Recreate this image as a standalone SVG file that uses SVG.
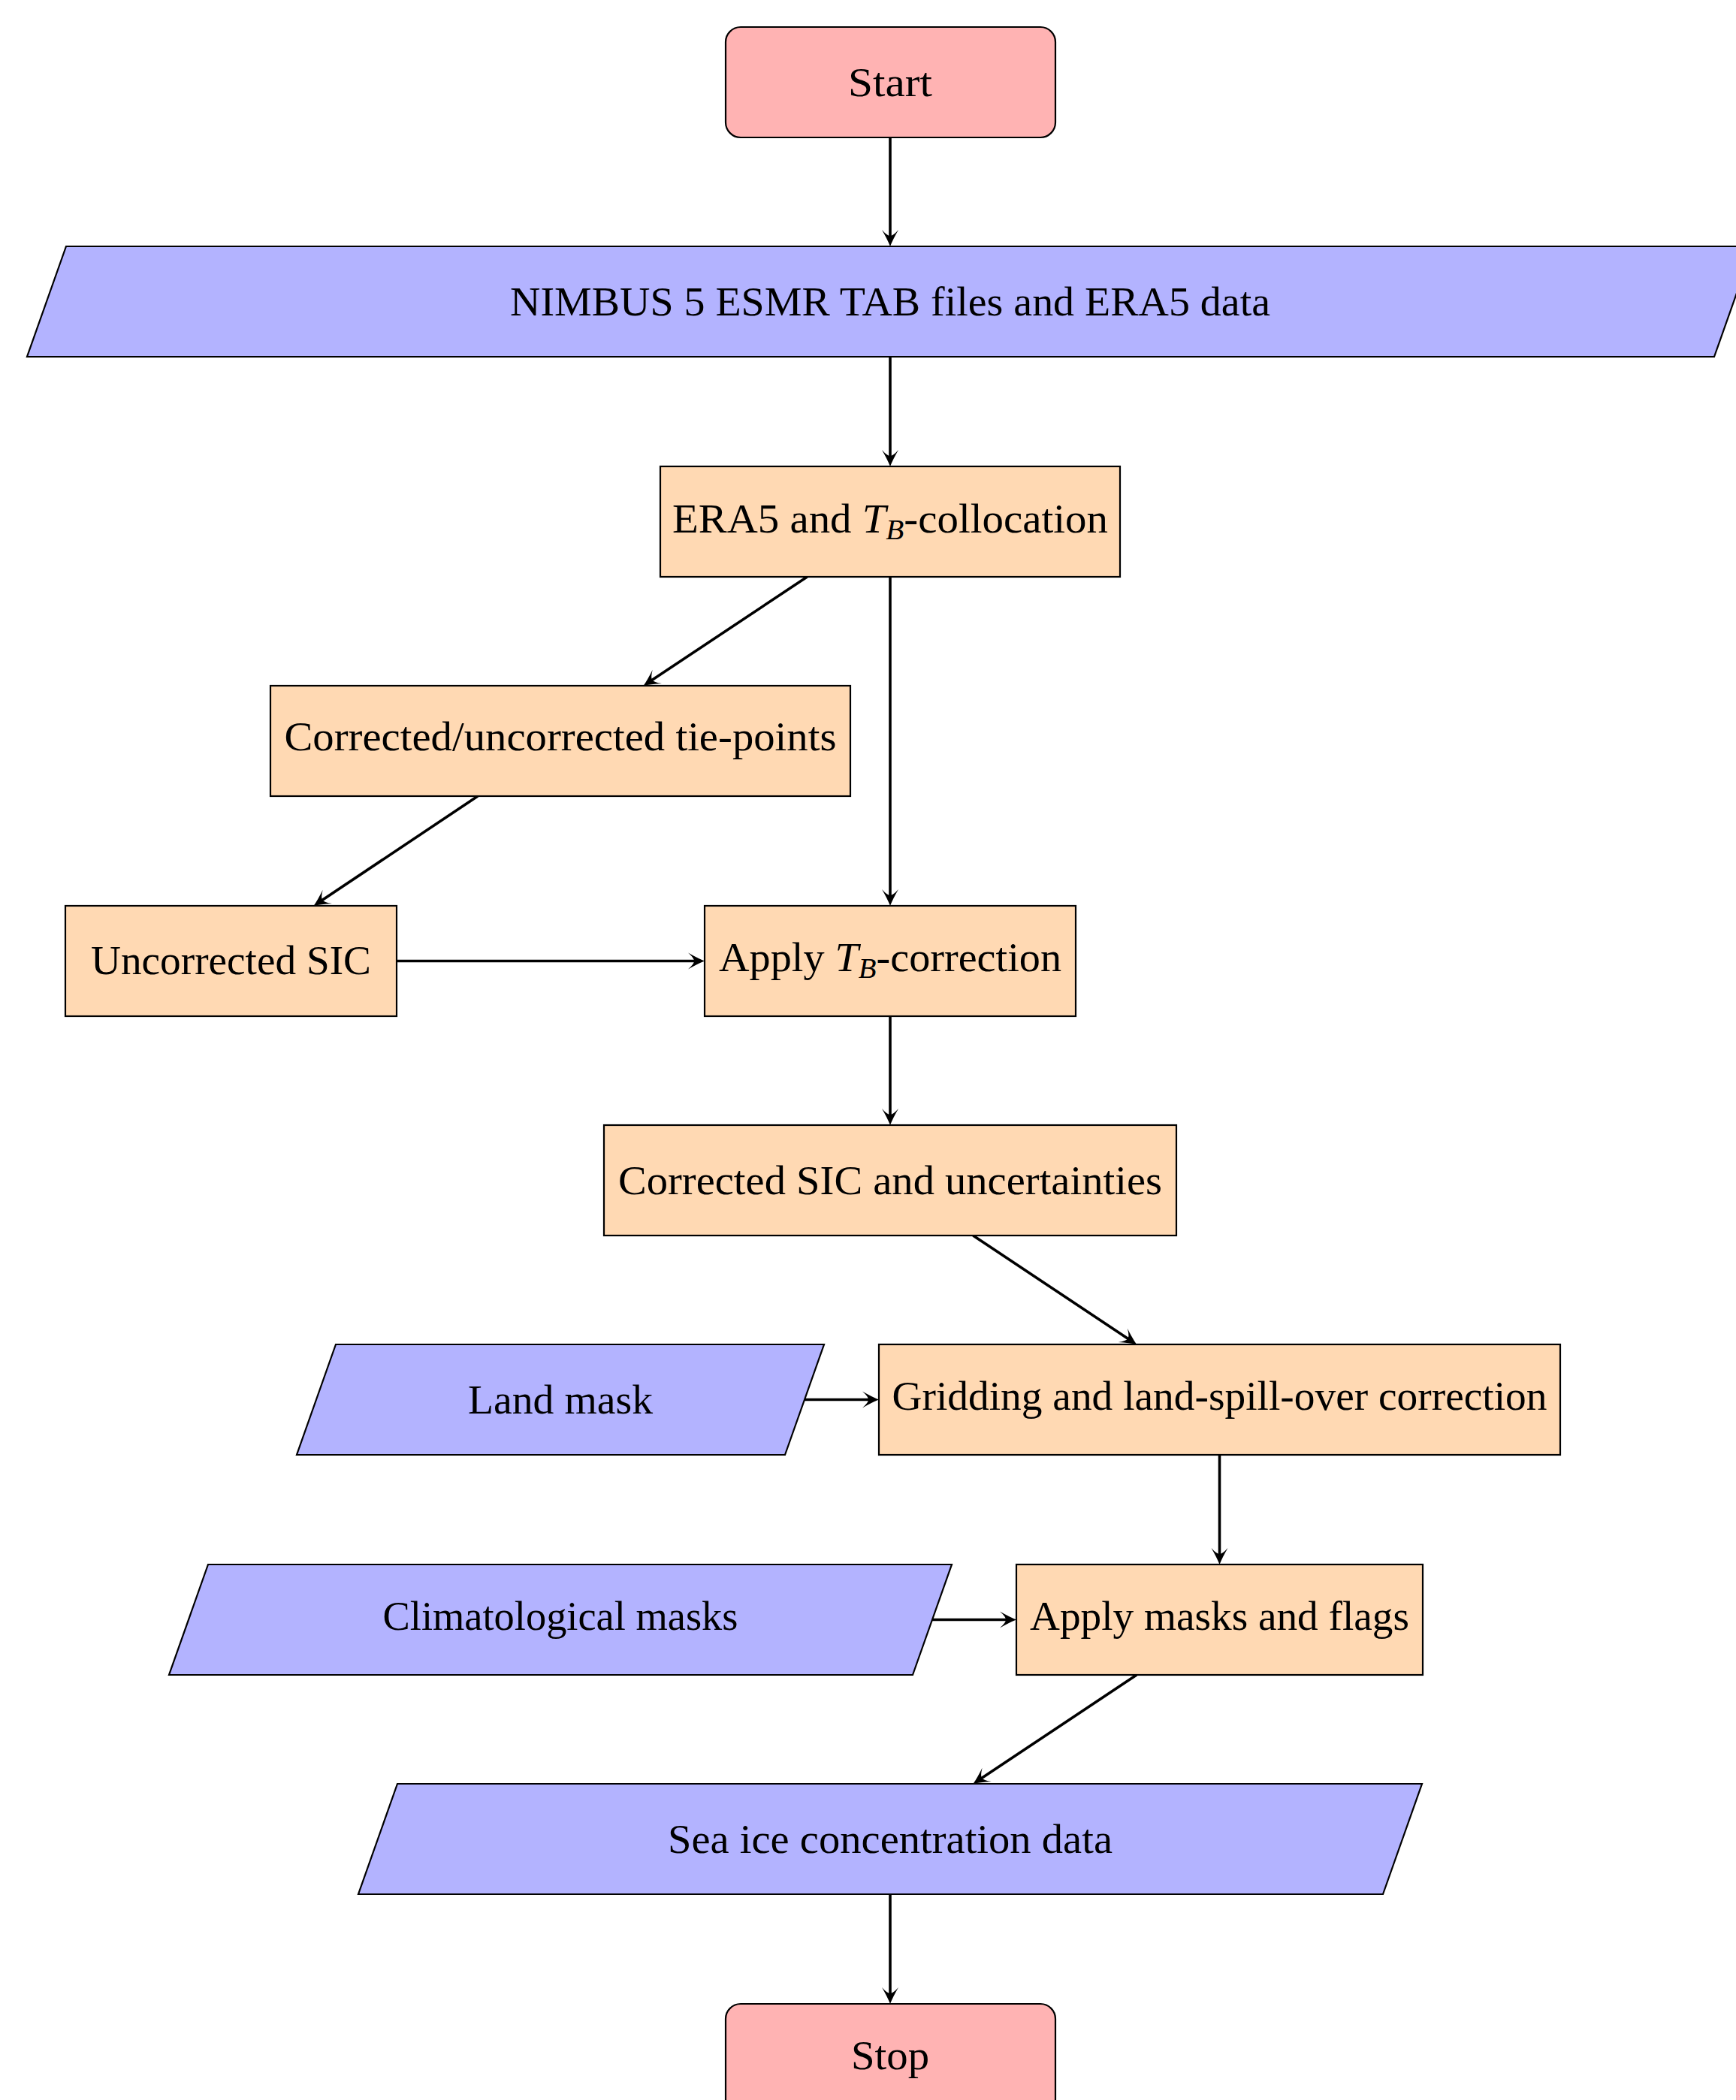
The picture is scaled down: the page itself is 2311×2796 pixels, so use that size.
<svg xmlns="http://www.w3.org/2000/svg" width="2311" height="2796" viewBox="0 0 2311 2796">
<defs>
<style>
.term{fill:#ffb3b3;stroke:#000;stroke-width:2.2}
.io{fill:#b3b3ff;stroke:#000;stroke-width:2.2}
.proc{fill:#ffd9b3;stroke:#000;stroke-width:2.2}
.lbl{font-family:"Liberation Serif","Times New Roman",serif;font-size:55px;fill:#000;text-anchor:middle}
.it{font-style:italic}
.sub{font-style:italic;font-size:38px}
.conn{fill:none;stroke:#000;stroke-width:3.6;marker-end:url(#arr)}
</style>
<marker id="arr" markerUnits="userSpaceOnUse" viewBox="-24 -13 32 26" markerWidth="32" markerHeight="26" refX="0" refY="0" orient="auto" overflow="visible">
<path d="M6,0 Q-3,-3.5 -16,-11 Q-8,-4 -8,0 Q-8,4 -16,11 Q-3,3.5 6,0 Z" fill="#000"/>
</marker>
</defs>
<rect width="2311" height="2796" fill="#fff"/>

<g id="connectors">
<line class="conn" x1="1185" y1="183" x2="1185" y2="322"/>
<line class="conn" x1="1185" y1="475" x2="1185" y2="615"/>
<line class="conn" x1="1074.5" y1="768" x2="861.5" y2="909.7"/>
<line class="conn" x1="1185" y1="768" x2="1185" y2="1200"/>
<line class="conn" x1="636" y1="1060" x2="422.5" y2="1202.7"/>
<line class="conn" x1="528" y1="1279.5" x2="932" y2="1279.5"/>
<line class="conn" x1="1185" y1="1353" x2="1185" y2="1492"/>
<line class="conn" x1="1295.4" y1="1645" x2="1508.1" y2="1786.7"/>
<line class="conn" x1="1071" y1="1863.5" x2="1164" y2="1863.5"/>
<line class="conn" x1="1623.5" y1="1937" x2="1623.5" y2="2077"/>
<line class="conn" x1="1241" y1="2156.5" x2="1347" y2="2156.5"/>
<line class="conn" x1="1513.1" y1="2230" x2="1300.4" y2="2371.7"/>
<line class="conn" x1="1185" y1="2522" x2="1185" y2="2662"/>
</g>

<g id="start">
<rect class="term" x="966" y="36" width="439" height="147" rx="20"/>
<text class="lbl" x="1185" y="128" textLength="112" lengthAdjust="spacingAndGlyphs">Start</text>
</g>

<g id="input">
<polygon class="io" points="88,328 2334,328 2282,475 36,475"/>
<text class="lbl" x="1185" y="420" textLength="1012" lengthAdjust="spacingAndGlyphs">NIMBUS 5 ESMR TAB files and ERA5 data</text>
</g>

<g id="collocation">
<rect class="proc" x="879" y="621" width="612" height="147"/>
<text class="lbl" x="1185" y="709" textLength="580" lengthAdjust="spacingAndGlyphs">ERA5 and <tspan class="it">T</tspan><tspan class="sub" dy="9">B</tspan><tspan dy="-9">-collocation</tspan></text>
</g>

<g id="tiepoints">
<rect class="proc" x="360" y="913" width="772" height="147"/>
<text class="lbl" x="746" y="999" textLength="735" lengthAdjust="spacingAndGlyphs">Corrected/uncorrected tie-points</text>
</g>

<g id="uncorrected">
<rect class="proc" x="87" y="1206" width="441" height="147"/>
<text class="lbl" x="307.5" y="1297" textLength="373" lengthAdjust="spacingAndGlyphs">Uncorrected SIC</text>
</g>

<g id="applytb">
<rect class="proc" x="938" y="1206" width="494" height="147"/>
<text class="lbl" x="1185" y="1293" textLength="456" lengthAdjust="spacingAndGlyphs">Apply <tspan class="it">T</tspan><tspan class="sub" dy="9">B</tspan><tspan dy="-9">-correction</tspan></text>
</g>

<g id="corrected">
<rect class="proc" x="804" y="1498" width="762" height="147"/>
<text class="lbl" x="1185" y="1590" textLength="724" lengthAdjust="spacingAndGlyphs">Corrected SIC and uncertainties</text>
</g>

<g id="landmask">
<polygon class="io" points="447,1790 1097,1790 1045,1937 395,1937"/>
<text class="lbl" x="746" y="1882" textLength="246" lengthAdjust="spacingAndGlyphs">Land mask</text>
</g>

<g id="gridding">
<rect class="proc" x="1170" y="1790" width="907" height="147"/>
<text class="lbl" x="1623.5" y="1877" textLength="872" lengthAdjust="spacingAndGlyphs">Gridding and land-spill-over correction</text>
</g>

<g id="climmasks">
<polygon class="io" points="277,2083 1267,2083 1215,2230 225,2230"/>
<text class="lbl" x="746" y="2170" textLength="473" lengthAdjust="spacingAndGlyphs">Climatological masks</text>
</g>

<g id="applymasks">
<rect class="proc" x="1353" y="2083" width="541" height="147"/>
<text class="lbl" x="1623.5" y="2170" textLength="505" lengthAdjust="spacingAndGlyphs">Apply masks and flags</text>
</g>

<g id="output">
<polygon class="io" points="529,2375 1893,2375 1841,2522 477,2522"/>
<text class="lbl" x="1185" y="2467" textLength="592" lengthAdjust="spacingAndGlyphs">Sea ice concentration data</text>
</g>

<g id="stop">
<rect class="term" x="966" y="2668" width="439" height="147" rx="20"/>
<text class="lbl" x="1185" y="2755" textLength="104" lengthAdjust="spacingAndGlyphs">Stop</text>
</g>
</svg>
